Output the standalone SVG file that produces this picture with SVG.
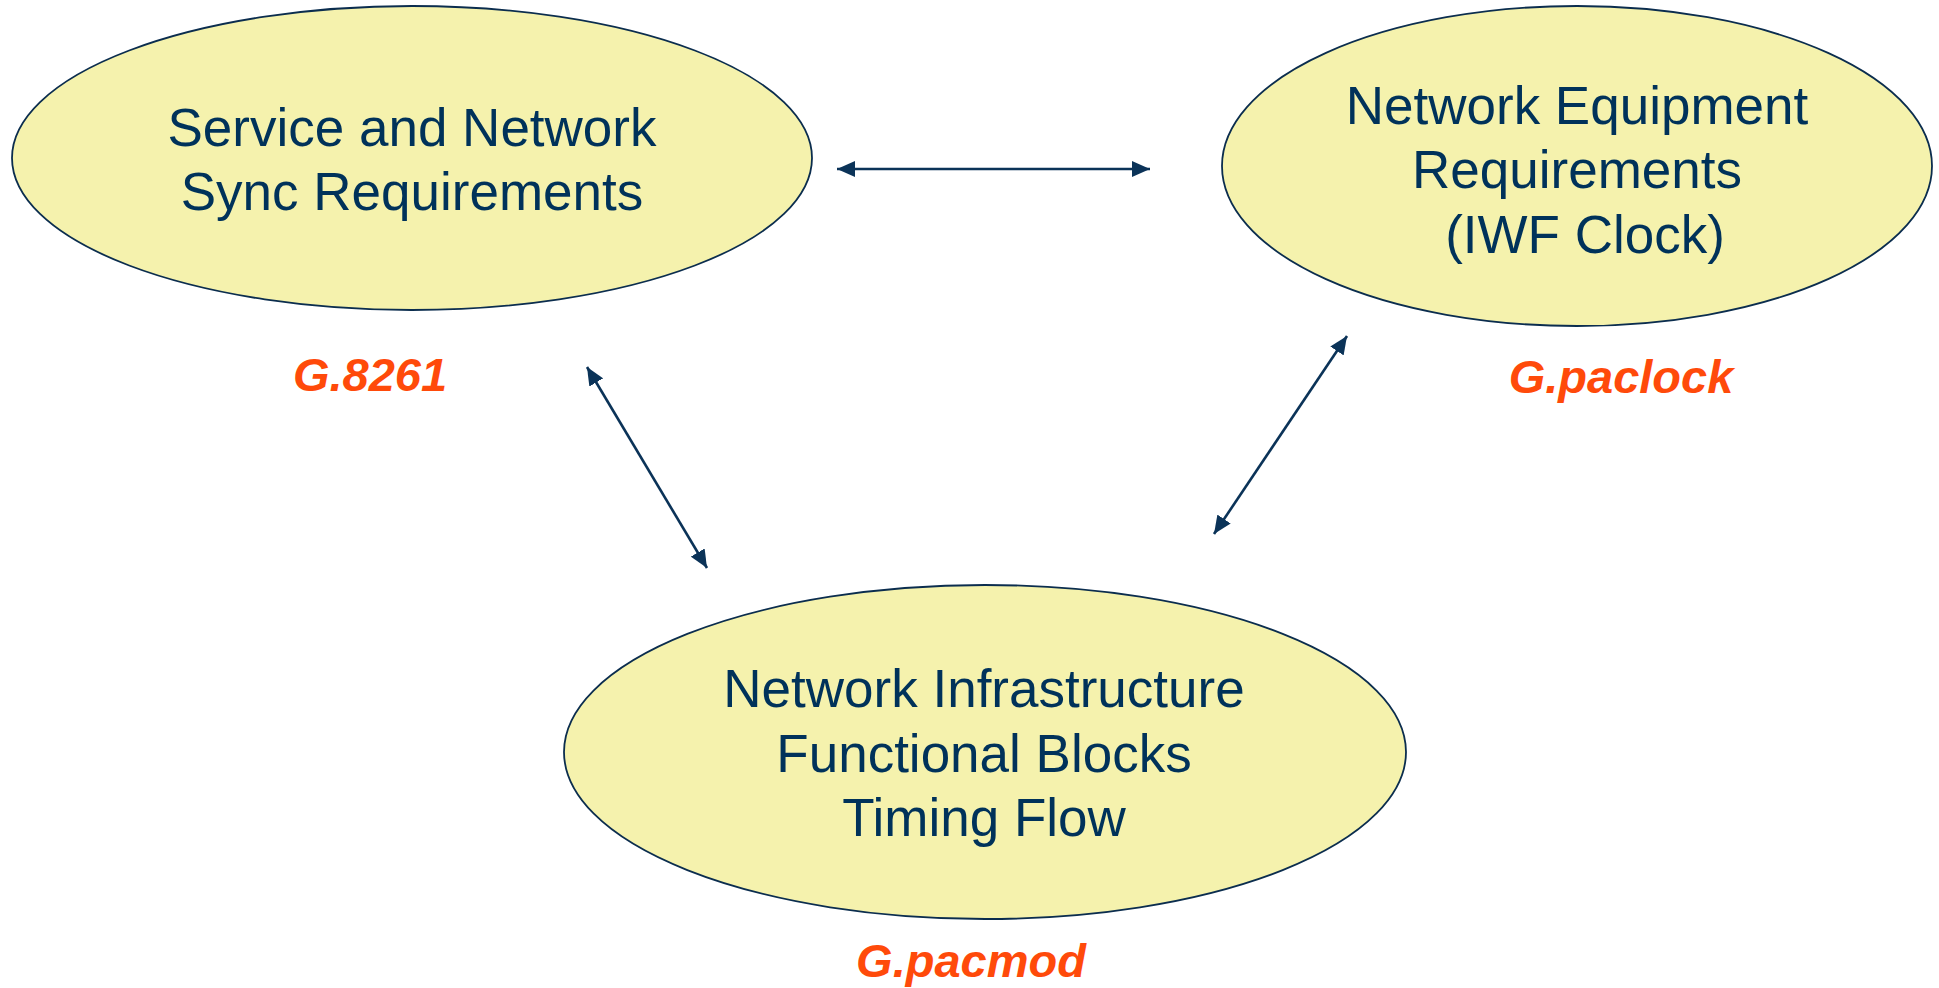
<svg xmlns="http://www.w3.org/2000/svg" width="1939" height="988" viewBox="0 0 1939 988">
<style>
.node ellipse{fill:#F5F2AD;stroke:#0B2D4E;stroke-width:1.8}
.node text{font-family:"Liberation Sans",Arial,sans-serif;font-size:53px;fill:#00325A;text-anchor:middle}
.std{font-family:"Liberation Sans",Arial,sans-serif;font-size:47px;font-weight:bold;font-style:italic;fill:#FF4A0A;text-anchor:middle}
.conn line{stroke:#0B3358;stroke-width:2.6;marker-start:url(#ah);marker-end:url(#ah)}
</style>
<defs>
<marker id="ah" markerUnits="userSpaceOnUse" markerWidth="18" markerHeight="16" refX="18" refY="8" orient="auto-start-reverse">
<path d="M0,0 L18,8 L0,16 z" fill="#0B3358"/>
</marker>
</defs>
<rect width="1939" height="988" fill="#FFFFFF"/>
<g id="node-service" class="node">
<ellipse cx="412" cy="158" rx="400" ry="152"/>
<text x="412" y="146">Service and Network</text>
<text x="412" y="210">Sync Requirements</text>
</g>
<g id="node-equipment" class="node">
<ellipse cx="1577" cy="166" rx="355" ry="160"/>
<text x="1577" y="124">Network Equipment</text>
<text x="1577" y="188">Requirements</text>
<text x="1585" y="253">(IWF Clock)</text>
</g>
<g id="node-infrastructure" class="node">
<ellipse cx="985" cy="752" rx="421" ry="167"/>
<text x="984" y="707">Network Infrastructure</text>
<text x="984" y="772">Functional Blocks</text>
<text x="984" y="836">Timing Flow</text>
</g>
<g id="labels">
<text class="std" x="370" y="391">G.8261</text>
<text class="std" x="1621" y="393">G.paclock</text>
<text class="std" x="971" y="977">G.pacmod</text>
</g>
<g id="connectors" class="conn">
<line x1="837" y1="169" x2="1150" y2="169"/>
<line x1="587" y1="367" x2="707" y2="568"/>
<line x1="1347" y1="336" x2="1214" y2="534"/>
</g>
</svg>
